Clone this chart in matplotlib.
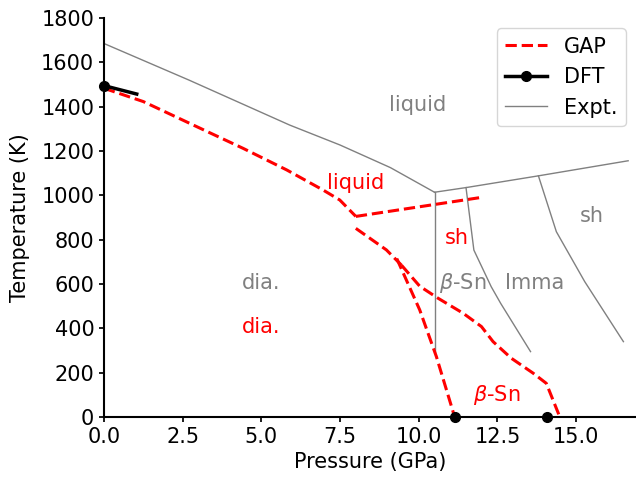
#!/usr/bin/python3
# -*- coding: utf-8 -*-

import matplotlib
matplotlib.use('Agg')
import matplotlib.pyplot as plt

# experimental phase boundaries (GPa, K)
expt_melt_p = [0.0, 2.7, 5.9, 7.5, 9.1, 10.5]
expt_melt_t = [1685, 1520, 1317, 1227, 1125, 1014]
expt_liqsh_p = [10.5, 11.5, 13.8, 16.65]
expt_liqsh_t = [1014, 1035, 1088, 1156]
expt_diabeta_p = [10.5, 10.5]
expt_diabeta_t = [1014, 295]
expt_betaimma_p = [11.5, 11.75, 12.3, 12.6, 13.55]
expt_betaimma_t = [1035, 753, 588, 513, 295]
expt_immash_p = [13.8, 14.37, 15.27, 16.5]
expt_immash_t = [1088, 836, 611, 340]

# GAP phase boundaries
gap_melt_p = [0.0, 1.25, 3.05, 4.42, 5.8, 6.96, 7.49, 8.0]
gap_melt_t = [1483, 1423, 1303, 1212, 1115, 1024, 979, 905]
gap_liqsh_p = [8.0, 12.0]
gap_liqsh_t = [905, 991]
gap_diash_p = [8.0, 8.97, 9.45]
gap_diash_t = [851, 754, 685]
gap_diabeta_p = [9.3, 10.03, 10.56, 11.14]
gap_diabeta_t = [715, 483, 272, 0]
gap_betash_p = [9.45, 10.03, 10.61, 11.41, 11.99, 12.36, 12.94, 13.63, 14.05, 14.48]
gap_betash_t = [685, 590, 536, 468, 408, 340, 265, 198, 152, 0]

# DFT
dft_melt_p = [0.0, 1.04]
dft_melt_t = [1495, 1457]
dft_trans_p = [11.14, 14.06]
dft_trans_t = [0, 0]

COLOR_GAP = '#ff0000'
COLOR_EXPT = '#808080'

plt.rcParams['font.size'] = 15

fig = plt.figure(figsize=(6.36, 4.78), dpi=100)
ax = fig.add_axes([0.1635, 0.1276, 0.8365, 0.8347])

# experiment
expt = [(expt_melt_p, expt_melt_t), (expt_liqsh_p, expt_liqsh_t),
        (expt_diabeta_p, expt_diabeta_t), (expt_betaimma_p, expt_betaimma_t),
        (expt_immash_p, expt_immash_t)]
for p, t in expt:
    ax.plot(p, t, color=COLOR_EXPT, lw=1)

# GAP
gap = [(gap_melt_p, gap_melt_t), (gap_liqsh_p, gap_liqsh_t),
       (gap_diash_p, gap_diash_t), (gap_diabeta_p, gap_diabeta_t),
       (gap_betash_p, gap_betash_t)]
for p, t in gap:
    ax.plot(p, t, color=COLOR_GAP, lw=2.2, linestyle='--')

# DFT
ax.plot(dft_melt_p, dft_melt_t, 'k-', lw=2.5, marker='o', markersize=7,
        markevery=[0], clip_on=False, zorder=4)
ax.plot(dft_trans_p, dft_trans_t, 'ko', markersize=7, clip_on=False, zorder=4)

# legend handles
ax.plot([], [], color=COLOR_GAP, lw=2.2, linestyle='--', label='GAP')
ax.plot([], [], 'k-', lw=2.5, marker='o', markersize=7, label='DFT')
ax.plot([], [], color=COLOR_EXPT, lw=1, label='Expt.')
ax.legend(loc='upper right')

# phase labels
ax.text(9.97, 1408, 'liquid', color=COLOR_EXPT, ha='center', va='center')
ax.text(5.0, 605, 'dia.', color=COLOR_EXPT, ha='center', va='center')
ax.text(11.4, 605, r'$\beta$-Sn', color=COLOR_EXPT, ha='center', va='center')
ax.text(13.68, 605, 'Imma', color=COLOR_EXPT, ha='center', va='center')
ax.text(15.49, 907, 'sh', color=COLOR_EXPT, ha='center', va='center')
ax.text(8.0, 1056, 'liquid', color=COLOR_GAP, ha='center', va='center')
ax.text(5.0, 406, 'dia.', color=COLOR_GAP, ha='center', va='center')
ax.text(11.2, 808, 'sh', color=COLOR_GAP, ha='center', va='center')
ax.text(12.48, 100, r'$\beta$-Sn', color=COLOR_GAP, ha='center', va='center')

ax.set_xlim(0, 16.9)
ax.set_ylim(0, 1800)
ax.set_xticks([0, 2.5, 5, 7.5, 10, 12.5, 15])
ax.set_xlabel('Pressure (GPa)')
ax.set_ylabel('Temperature (K)', labelpad=8)
ax.spines['right'].set_color('none')
ax.spines['top'].set_color('none')
ax.spines['left'].set_linewidth(1.5)
ax.spines['bottom'].set_linewidth(1.5)
ax.tick_params(width=1.25)

fig.savefig('out.png', dpi=100)
